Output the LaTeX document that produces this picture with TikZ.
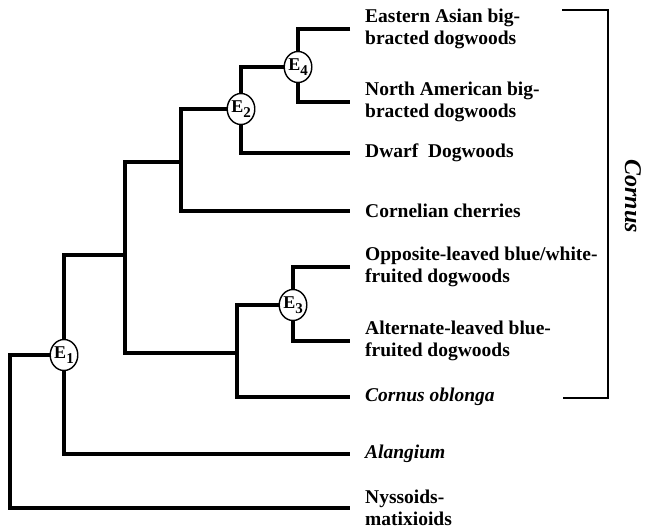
\documentclass[tikz,border=0pt]{standalone}
\usepackage{fontspec}
\setmainfont{Liberation Serif}
\usetikzlibrary{shapes}
\usetikzlibrary{positioning}
\newcommand\evlabel[1]{E\raisebox{-4.5pt}{\fontsize{15}{15}\selectfont #1}}

\begin{document}
\begin{tikzpicture}[
x=1pt, y=-1pt,
event/.style={
  ellipse,
  draw,
  line width=1.4pt,
  fill=white,
  inner sep=0pt,
  minimum width=27pt,
  minimum height=31pt,
  font=\fontsize{18}{18}\selectfont\bfseries},
leaf/.style={
  anchor=west,
  align=left,
  inner xsep=15pt,
  inner ysep=0pt,
  font=\fontsize{19.5}{22}\selectfont\bfseries},
limb/.style={line width=3.4pt}
]
\useasboundingbox (0,0) rectangle (647,531);

\node[event] (E1) at (64,355) {\evlabel{1}};
\node[event] (E2) at (241,109) {\evlabel{2}};
\node[event] (E3) at (293,305) {\evlabel{3}};
\node[event] (E4) at (298,67) {\evlabel{4}};

\coordinate (root) at (10,355);
\coordinate (n2) at (125,255);
\coordinate (n3) at (181,162);
\coordinate (n4) at (237,353);

\node[leaf] (ea) at (350,29) {Eastern Asian big-\\bracted dogwoods};
\node[leaf] (na) at (350,102) {North American big-\\bracted dogwoods};
\node[leaf] (dw) at (350,153) {Dwarf~~Dogwoods};
\node[leaf] (cc) at (350,211) {Cornelian cherries};
\node[leaf] (op) at (350,267) {Opposite-leaved blue/white-\\fruited dogwoods};
\node[leaf] (al) at (350,341) {Alternate-leaved blue-\\fruited dogwoods};
\node[leaf] (co) at (350,397) {\textit{Cornus oblonga}};
\node[leaf] (ag) at (350,454) {\textit{Alangium}};
\node[leaf] (ny) at (350,508) {Nyssoids-\\matixioids};

\draw[limb] (E1) -- (root) |- (ny);
\draw[limb] (n2) -| (E1) |- (ag);
\draw[limb] (n3) -| (n2) |- (n4);
\draw[limb] (E2) -| (n3) |- (cc);
\draw[limb] (E4) -| (E2) |- (dw);
\draw[limb] (ea) -| (E4) |- (na);
\draw[limb] (E3) -| (n4) |- (co);
\draw[limb] (op) -| (E3) |- (al);

\coordinate (bt) at (562,10);
\coordinate (bb) at (563,398);
\draw[line width=1.1pt] (bt) -- ++(46,0) |- (bb);
\node[rotate=-90, font=\fontsize{24}{24}\selectfont\bfseries\itshape] (cornus) at (633,196) {Cornus};
\end{tikzpicture}
\end{document}
